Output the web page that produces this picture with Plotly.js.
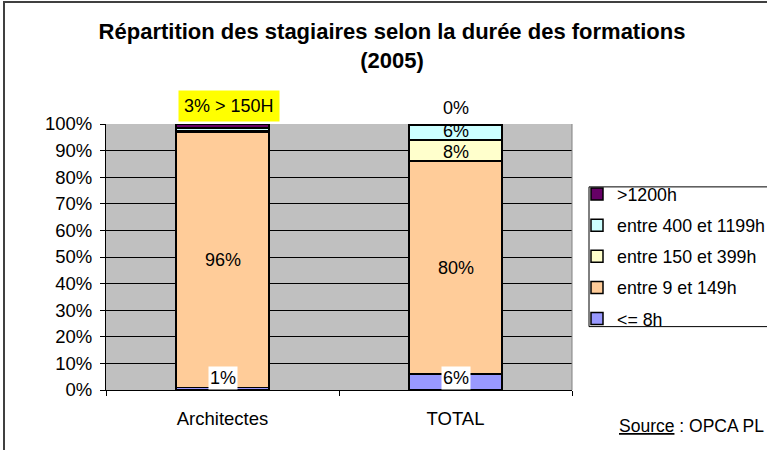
<!DOCTYPE html>
<html>
<head>
<meta charset="utf-8">
<script src="https://cdn.plot.ly/plotly-3.0.1.min.js"></script>
<style>
  html, body { margin: 0; padding: 0; background: #ffffff; overflow: hidden; }
  #wrap { position: relative; width: 767px; height: 450px; overflow: hidden; }
  #chart { width: 767px; height: 450px; }
  #frame { position: absolute; left: 3px; top: 1px; width: 900px; height: 600px;
           border-top: 2px solid #404040; border-left: 2px solid #404040; pointer-events: none; }
</style>
</head>
<body>
<div id="wrap">
<div id="chart"></div>
<div id="frame"></div>
</div>
<script>
// ---- data ----
var categories = ['Architectes', 'TOTAL'];
var seriesNames = ['&lt;= 8h', 'entre 9 et 149h', 'entre 150 et 399h', 'entre 400 et 1199h', '>1200h'];
var seriesColors = ['#9999FF', '#FFCC99', '#FFFFCC', '#CCFFFF', '#660066'];
var le8h = [1, 6];
var h9to149 = [96, 80];
var h150to399 = [0.4, 8];
var h400to1199 = [1.1, 5.7];
var gt1200h = [1.5, 0.3];
var seriesValues = [le8h, h9to149, h150to399, h400to1199, gt1200h];

// labels shown on the chart
var labelsBottom = ['1%', '6%'];          // <= 8h
var labelsMiddle = ['96%', '80%'];        // entre 9 et 149h
var labelTotal150 = '8%';
var labelTotal400 = '6%';
var labelTotalTop = '0%';
var labelArchTop = '3% &gt; 150H';
var yTicks = [0, 10, 20, 30, 40, 50, 60, 70, 80, 90, 100];
var yTickLabels = ['0%', '10%', '20%', '30%', '40%', '50%', '60%', '70%', '80%', '90%', '100%'];

var FONT = 'Liberation Sans, Arial, sans-serif';

var traces = seriesNames.map(function (n, i) {
  return {
    type: 'bar',
    name: n,
    x: categories,
    y: seriesValues[i],
    legendgroup: 'g' + i,
    legendrank: (seriesNames.length - i) * 100,
    marker: { color: seriesColors[i], line: { color: '#000000', width: 1.5 } },
    hoverinfo: 'skip',
    textposition: 'none'
  };
});

// cumulative sums for label placement
function cum(k, c) {
  var s = 0;
  for (var i = 0; i < k; i++) s += seriesValues[i][c];
  return s;
}

var lblFont = { family: FONT, size: 18, color: '#000000' };
var annotations = [];
categories.forEach(function (c, ci) {
  annotations.push({
    x: c, y: 0, xref: 'x', yref: 'y', text: labelsBottom[ci], showarrow: false,
    yanchor: 'bottom', bgcolor: '#FFFFFF', borderpad: 1, font: lblFont
  });
  annotations.push({
    x: c, y: cum(1, ci) + seriesValues[1][ci] / 2, xref: 'x', yref: 'y',
    text: labelsMiddle[ci], showarrow: false, font: lblFont
  });
});
annotations.push({
  x: categories[1], y: cum(2, 1) + seriesValues[2][1] / 2, xref: 'x', yref: 'y',
  text: labelTotal150, showarrow: false, font: lblFont, yshift: -1
});
annotations.push({
  x: categories[1], y: cum(3, 1) + seriesValues[3][1] / 2, xref: 'x', yref: 'y',
  text: labelTotal400, showarrow: false, font: lblFont, yshift: 1
});
annotations.push({
  x: categories[1], y: cum(5, 1), xref: 'x', yref: 'y', text: labelTotalTop,
  showarrow: false, yanchor: 'bottom', yshift: 4, font: lblFont
});
annotations.push({
  x: categories[0], y: cum(5, 0), xref: 'x', yref: 'y', text: labelArchTop,
  showarrow: false, yanchor: 'bottom', yshift: 2, xshift: 6,
  bgcolor: '#FFFF00', borderpad: 5, font: lblFont
});
annotations.push({
  x: 1.2575, y: -0.137, xref: 'paper', yref: 'paper',
  xanchor: 'center', yanchor: 'middle',
  text: '<u>Source</u> : OPCA PL', showarrow: false,
  font: { family: FONT, size: 17.5, color: '#000000' }
});

var layout = {
  width: 767, height: 450,
  margin: { l: 106, r: 195, t: 124, b: 60, pad: 0, autoexpand: false },
  paper_bgcolor: '#FFFFFF',
  plot_bgcolor: '#C0C0C0',
  barmode: 'stack',
  bargap: 0.6,
  showlegend: true,
  title: {
    text: '<b>Répartition des stagiaires selon la durée des formations<br>(2005)</b>',
    font: { family: FONT, size: 22, color: '#000000' },
    x: 392 / 767, xanchor: 'center', xref: 'container',
    y: 0.913, yanchor: 'top', yref: 'container'
  },
  font: { family: FONT, size: 18.5, color: '#000000' },
  xaxis: {
    type: 'category',
    showline: true, linecolor: '#000000', linewidth: 1,
    ticks: 'outside', tickson: 'boundaries', ticklen: 5, tickcolor: '#000000',
    ticklabelstandoff: 12,
    showgrid: false, zeroline: false,
    tickfont: { family: FONT, size: 18.5, color: '#000000' },
    fixedrange: true
  },
  yaxis: {
    range: [0, 100],
    tickmode: 'array', tickvals: yTicks, ticktext: yTickLabels,
    showline: true, linecolor: '#000000', linewidth: 1,
    ticks: 'outside', ticklen: 5, tickcolor: '#000000',
    ticklabelstandoff: 4,
    showgrid: true, gridcolor: '#000000', gridwidth: 1,
    zeroline: false,
    tickfont: { family: FONT, size: 18.5, color: '#000000' },
    fixedrange: true
  },
  legend: {
    x: (577 - 106) / 466, xanchor: 'left', xref: 'paper',
    y: 0.8048, yanchor: 'top', yref: 'paper',
    traceorder: 'grouped',
    tracegroupgap: 5,
    bgcolor: 'rgba(0,0,0,0)', borderwidth: 0,
    font: { family: FONT, size: 17.8, color: '#000000' }
  },
  annotations: annotations,
  shapes: [
    { type: 'line', xref: 'paper', yref: 'paper', x0: 1, x1: 1, y0: 0, y1: 1,
      line: { color: '#808080', width: 1 }, layer: 'above' },
    { type: 'rect', xref: 'paper', yref: 'paper', x0: 1.0365, x1: 1.49, y0: 0.2383, y1: 0.7636,
      line: { color: '#000000', width: 1 }, fillcolor: 'rgba(0,0,0,0)', layer: 'below' }
  ]
};

Plotly.newPlot('chart', traces, layout, { displayModeBar: false, staticPlot: true });
</script>
</body>
</html>
